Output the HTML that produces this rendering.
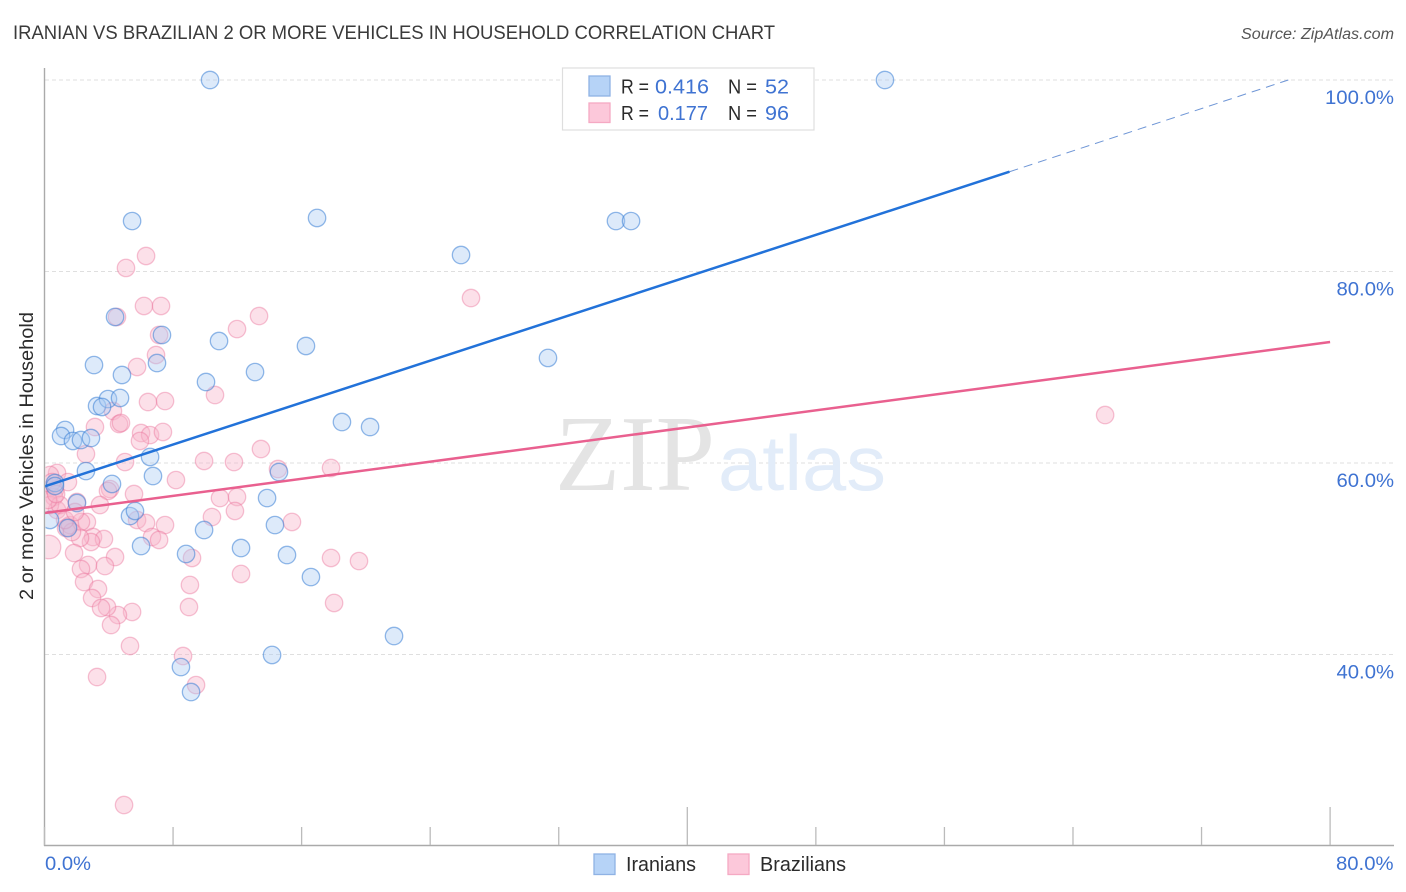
<!DOCTYPE html>
<html lang="en">
<head>
<meta charset="utf-8">
<title>Iranian vs Brazilian 2 or More Vehicles in Household Correlation Chart</title>
<style>
html,body{margin:0;padding:0;background:#fff;width:1406px;height:892px;overflow:hidden}
svg{display:block;font-family:"Liberation Sans",sans-serif}
</style>
</head>
<body>
<svg id="chart" width="1406" height="892" viewBox="0 0 1406 892" xmlns="http://www.w3.org/2000/svg">
  <defs>
    <clipPath id="plot-clip"><rect x="45.5" y="60" width="1350" height="785"/></clipPath>
  </defs>
  <text x="13" y="39" font-size="19" fill="#3a3a3a" textLength="762" lengthAdjust="spacingAndGlyphs">IRANIAN VS BRAZILIAN 2 OR MORE VEHICLES IN HOUSEHOLD CORRELATION CHART</text>
  <text x="1394" y="39" font-size="15.5" font-style="italic" fill="#555" text-anchor="end" textLength="153" lengthAdjust="spacingAndGlyphs">Source: ZipAtlas.com</text>
  <g id="grid"></g>
  <g>
    <text x="555" y="490" font-family="'Liberation Serif',serif" font-size="108" fill="#e4e4e4" textLength="160" lengthAdjust="spacingAndGlyphs">ZIP</text>
    <text x="718" y="490" font-size="78" fill="#e2ecf9" textLength="168" lengthAdjust="spacingAndGlyphs">atlas</text>
  </g>
  <g id="points" clip-path="url(#plot-clip)"></g>
  <g id="trends"></g>
  <g id="axes"></g>
  <text transform="translate(33,456) rotate(-90)" font-size="19" fill="#2b2b2b" text-anchor="middle" textLength="288" lengthAdjust="spacingAndGlyphs">2 or more Vehicles in Household</text>

  <g>
    <rect x="562.5" y="68" width="251.5" height="62" fill="#fff" stroke="#dedede" stroke-width="1.2"/>
    <rect x="589" y="76" width="21" height="20" fill="#b6d3f7" stroke="#8fb2e4" stroke-width="1.3"/>
    <rect x="589" y="103" width="21" height="19.5" fill="#fcc8da" stroke="#f5a9c3" stroke-width="1.3"/>
    <g font-size="20.5" fill="#2b2b2b">
      <text x="621" y="93.5" textLength="28" lengthAdjust="spacingAndGlyphs">R =</text>
      <text x="728" y="93.5" textLength="29" lengthAdjust="spacingAndGlyphs">N =</text>
      <text x="621" y="120" textLength="28" lengthAdjust="spacingAndGlyphs">R =</text>
      <text x="728" y="120" textLength="29" lengthAdjust="spacingAndGlyphs">N =</text>
    </g>
    <g font-size="20.5" fill="#3f73d2">
      <text x="655" y="93.5" textLength="54" lengthAdjust="spacingAndGlyphs">0.416</text>
      <text x="765" y="93.5" textLength="24" lengthAdjust="spacingAndGlyphs">52</text>
      <text x="658" y="120" textLength="50" lengthAdjust="spacingAndGlyphs">0.177</text>
      <text x="765" y="120" textLength="24" lengthAdjust="spacingAndGlyphs">96</text>
    </g>
  </g>

  <g>
    <rect x="594" y="854" width="21" height="20.5" fill="#b6d3f7" stroke="#8fb2e4" stroke-width="1.3"/>
    <text x="626" y="871" font-size="20" fill="#2b2b2b" textLength="70" lengthAdjust="spacingAndGlyphs">Iranians</text>
    <rect x="728" y="854" width="21" height="20.5" fill="#fcc8da" stroke="#f5a9c3" stroke-width="1.3"/>
    <text x="760" y="871" font-size="20" fill="#2b2b2b" textLength="86" lengthAdjust="spacingAndGlyphs">Brazilians</text>
  </g>
</svg>
<script>
const yTickValues = [100, 80, 60, 40];
const yTickLabels = ["100.0%", "80.0%", "60.0%", "40.0%"];
const xEndValues = [0, 80];
const xEndLabels = ["0.0%", "80.0%"];
const xTickValues = [0, 8, 16, 24, 32, 40, 48, 56, 64, 72, 80];
const xMajorTickValues = [40, 80];

const iranianX = [10.30,52.30,5.45,16.96,35.56,36.50,25.92,4.39,7.31,10.86,16.27,31.33,7.00,3.08,4.82,13.10,10.05,3.27,3.95,4.70,3.58,18.51,20.26,1.28,1.03,1.77,2.27,2.89,2.58,6.57,6.75,14.59,0.65,0.65,4.20,13.85,2.02,5.32,5.63,9.93,14.34,6.01,8.81,12.23,15.09,16.58,21.75,14.16,8.49,9.12,0.34,1.46];
const iranianY = [100,100,85.27,85.59,85.27,85.27,81.72,75.25,73.37,72.74,72.22,70.97,70.44,70.23,69.19,69.50,68.46,65.95,66.68,66.79,65.85,64.28,63.76,63.45,62.82,62.30,62.40,62.61,59.16,60.63,58.64,59.06,57.91,57.60,57.81,56.34,55.82,54.46,54.99,53.00,53.52,51.33,50.50,51.12,50.39,48.09,41.93,39.95,38.69,36.08,54.05,53.21];

const brazilianX = [6.32,5.07,26.54,6.19,7.25,13.35,11.98,4.51,7.13,6.94,5.76,10.61,7.50,6.44,4.26,4.64,4.76,3.14,6.01,6.57,7.37,5.94,2.58,5.01,9.93,11.79,13.47,14.53,17.83,8.18,5.57,10.92,11.98,11.85,10.42,15.40,5.76,6.32,7.50,6.69,7.13,9.18,12.23,17.83,19.57,9.05,8.99,18.02,5.45,4.57,4.14,5.32,3.27,8.62,9.43,4.95,66.00,0.78,0.34,1.46,4.08,3.95,3.45,2.02,0.28,1.46,1.34,1.59,2.64,2.27,3.02,3.70,2.89,2.21,1.84,4.39,2.71,3.76,2.27,2.46,3.33,2.96,3.89,3.52,0.53,0.65,0.59,0.78,0.34,0.96,0.47,0.22,1.71,1.28,1.90,0.72];
const brazilianY = [81.62,80.37,77.23,76.40,76.40,75.35,73.99,75.25,73.37,71.28,70.03,67.10,66.47,66.37,65.43,64.07,64.18,63.76,63.13,62.92,63.24,62.30,60.94,60.10,60.21,60.10,61.46,59.37,59.48,58.22,56.76,56.34,56.45,54.99,54.36,53.84,54.05,53.73,53.52,52.27,51.96,50.08,48.41,50.08,49.76,47.26,44.96,45.38,44.44,44.12,43.08,40.89,37.65,39.84,36.81,24.28,65.01,58.96,58.75,58.01,57.28,57.08,55.61,55.93,51.23,53.32,53.21,53.52,53.84,53.84,52.27,52.06,51.75,52.17,50.60,50.18,49.35,49.24,48.93,47.57,46.84,45.90,44.96,44.86,57.49,57.18,56.45,55.09,55.61,55.61,58.01,56.14,52.79,54.05,54.88,56.76];
const brazilianLargeIndex = 64;

const iranianTrendX = [0, 60.05, 77.4];
const iranianTrendY = [57.55, 90.42, 100];
const brazilianTrendX = [0, 80];
const brazilianTrendY = [54.78, 72.64];

const SVGNS = "http://www.w3.org/2000/svg";
function xScale(v) { return 44.5 + v * 16.07; }
function yScale(v) { return 80 + (100 - v) * 9.575; }
function make(tag, attrs, parent) {
  const el = document.createElementNS(SVGNS, tag);
  for (const k in attrs) el.setAttribute(k, attrs[k]);
  parent.appendChild(el);
  return el;
}
function labelWidth(text) { return text.length * 11.5; }

const grid = document.getElementById("grid");
const axes = document.getElementById("axes");
const points = document.getElementById("points");
const trends = document.getElementById("trends");

yTickValues.forEach(function (v, i) {
  const line = make("line", {x1: 45, x2: 1394, y1: yScale(v), y2: yScale(v), stroke: "#dfdfdf", "stroke-width": 1, "stroke-dasharray": "4 3"}, grid);
  
  
  const label = make("text", {x: 1394, y: yScale(v) + 24, "font-size": 19, fill: "#3f73d2", "text-anchor": "end", textLength: labelWidth(yTickLabels[i]), lengthAdjust: "spacingAndGlyphs"}, axes);
  
  
  label.textContent = yTickLabels[i];
});

const yAxis = make("line", {x1: 44.5, x2: 44.5, y1: 68, y2: 846, stroke: "#aaa", "stroke-width": 1.4}, axes);


const xAxis = make("line", {x1: 44, x2: 1394, y1: 845.5, y2: 845.5, stroke: "#aaa", "stroke-width": 1.4}, axes);



xTickValues.forEach(function (v) {
  const top = xMajorTickValues.indexOf(v) >= 0 ? 807 : 827;
  const tick = make("line", {x1: xScale(v), x2: xScale(v), y1: top, y2: 845, stroke: "#bbb", "stroke-width": 1.3}, axes);
  
  
});

xEndValues.forEach(function (v, i) {
  const isLast = i === xEndValues.length - 1;
  const label = make("text", {x: isLast ? 1393.5 : xScale(v) + 0.5, y: 870, "font-size": 19, fill: "#3f73d2", "text-anchor": isLast ? "end" : "start", textLength: labelWidth(xEndLabels[i]), lengthAdjust: "spacingAndGlyphs"}, axes);
  
  
  label.textContent = xEndLabels[i];
});

brazilianX.forEach(function (v, i) {
  const c = make("circle", {cx: xScale(v), cy: yScale(brazilianY[i]), r: i === brazilianLargeIndex ? 11.8 : 8.7, fill: "#f9b6cb", "fill-opacity": 0.42, stroke: "#ea6f98", "stroke-opacity": 0.42, "stroke-width": 1.3}, points);
  
  
});

iranianX.forEach(function (v, i) {
  const c = make("circle", {cx: xScale(v), cy: yScale(iranianY[i]), r: 8.7, fill: "#a9cbf3", "fill-opacity": 0.4, stroke: "#3b7fd6", "stroke-opacity": 0.55, "stroke-width": 1.3}, points);
  
  
});

const iranianSolid = make("line", {x1: xScale(iranianTrendX[0]), y1: yScale(iranianTrendY[0]), x2: xScale(iranianTrendX[1]), y2: yScale(iranianTrendY[1]), stroke: "#2272d9", "stroke-width": 2.5}, trends);


const iranianDash = make("line", {x1: xScale(iranianTrendX[1]), y1: yScale(iranianTrendY[1]), x2: xScale(iranianTrendX[2]), y2: yScale(iranianTrendY[2]), stroke: "#6f96d6", "stroke-width": 1, "stroke-dasharray": "9 6"}, trends);


const brazilianSolid = make("line", {x1: xScale(brazilianTrendX[0]), y1: yScale(brazilianTrendY[0]), x2: xScale(brazilianTrendX[1]), y2: yScale(brazilianTrendY[1]), stroke: "#e9608f", "stroke-width": 2.5}, trends);


</script>
</body>
</html>
